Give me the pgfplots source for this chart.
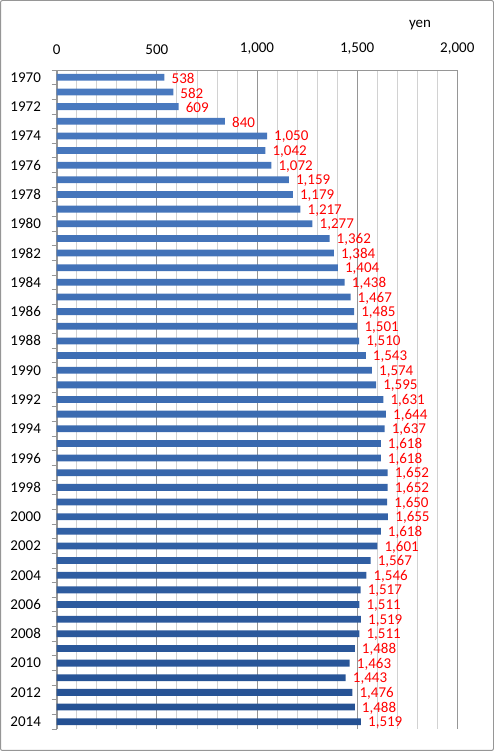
\documentclass[border=0pt]{standalone}
\usepackage{pgfplots}
\pgfplotsset{compat=1.18}
\usepackage{fontspec}
\setmainfont{Carlito}
\definecolor{bartop}{RGB}{74,122,192}
\definecolor{barmid}{RGB}{60,108,178}
\definecolor{barbot}{RGB}{36,80,146}
\definecolor{majgrid}{RGB}{150,150,150}
\definecolor{mingrid}{RGB}{210,210,210}
\begin{document}
\begin{tikzpicture}[x=1pt,y=1pt]
\draw[color=majgrid, line width=1pt, rounded corners=2pt] (0.5,0.5) rectangle (493.5,750.5);
\begin{axis}[
  at={(56.7pt,22pt)}, anchor=south west,
  scale only axis, width=400.6pt, height=659pt,
  xbar, bar width=6.8pt,
  xmin=0, xmax=2000,
  ymin=-0.5, ymax=44.5, y dir=reverse,
  axis line style={majgrid},
  axis x line*=top, axis y line*=left,
  xtick={0,500,...,2000},
  minor xtick={100,200,...,1900},
  xmajorgrids, xminorgrids,
  major grid style={majgrid, line width=0.8pt},
  minor grid style={mingrid, line width=0.8pt},
  major x tick style={draw=none},
  minor x tick style={draw=none},
  xticklabel pos=top,
  xticklabel style={yshift=8pt},
  ytick={0,2,...,44},
  yticklabels={1970,1972,1974,1976,1978,1980,1982,1984,1986,1988,1990,1992,1994,1996,1998,2000,2002,2004,2006,2008,2010,2012,2014},
  major y tick style={draw=none},
  minor ytick={-0.5,0.5,...,44.5},
  minor y tick style={majgrid, line width=0.8pt},
  minor tick length=5pt,
  tick align=outside,
  yticklabel style={xshift=-8pt},
  /pgf/number format/1000 sep={,},
  /pgf/number format/assume math mode=true,
  tick label style={font=\fontsize{15}{16}\selectfont, text=black},
  nodes near coords,
  nodes near coords style={anchor=west, inner sep=0pt, xshift=7pt, yshift=-1pt, text=red, font=\fontsize{15}{16}\selectfont,
    /pgf/number format/1000 sep={,}, /pgf/number format/assume math mode=true},
  clip=false,
]
\addplot[draw=none, top color=bartop, bottom color=barbot, middle color=barmid] coordinates {
(538,0) (582,1) (609,2) (840,3) (1050,4) (1042,5) (1072,6) (1159,7) (1179,8) (1217,9)
(1277,10) (1362,11) (1384,12) (1404,13) (1438,14) (1467,15) (1485,16) (1501,17) (1510,18) (1543,19)
(1574,20) (1595,21) (1631,22) (1644,23) (1637,24) (1618,25) (1618,26) (1652,27) (1652,28) (1650,29)
(1655,30) (1618,31) (1601,32) (1567,33) (1546,34) (1517,35) (1511,36) (1519,37) (1511,38) (1488,39)
(1463,40) (1443,41) (1476,42) (1488,43) (1519,44)
};
\end{axis}
\node[font=\fontsize{15}{16}\selectfont, anchor=center] at (420pt,726pt) {yen};
\end{tikzpicture}
\end{document}
